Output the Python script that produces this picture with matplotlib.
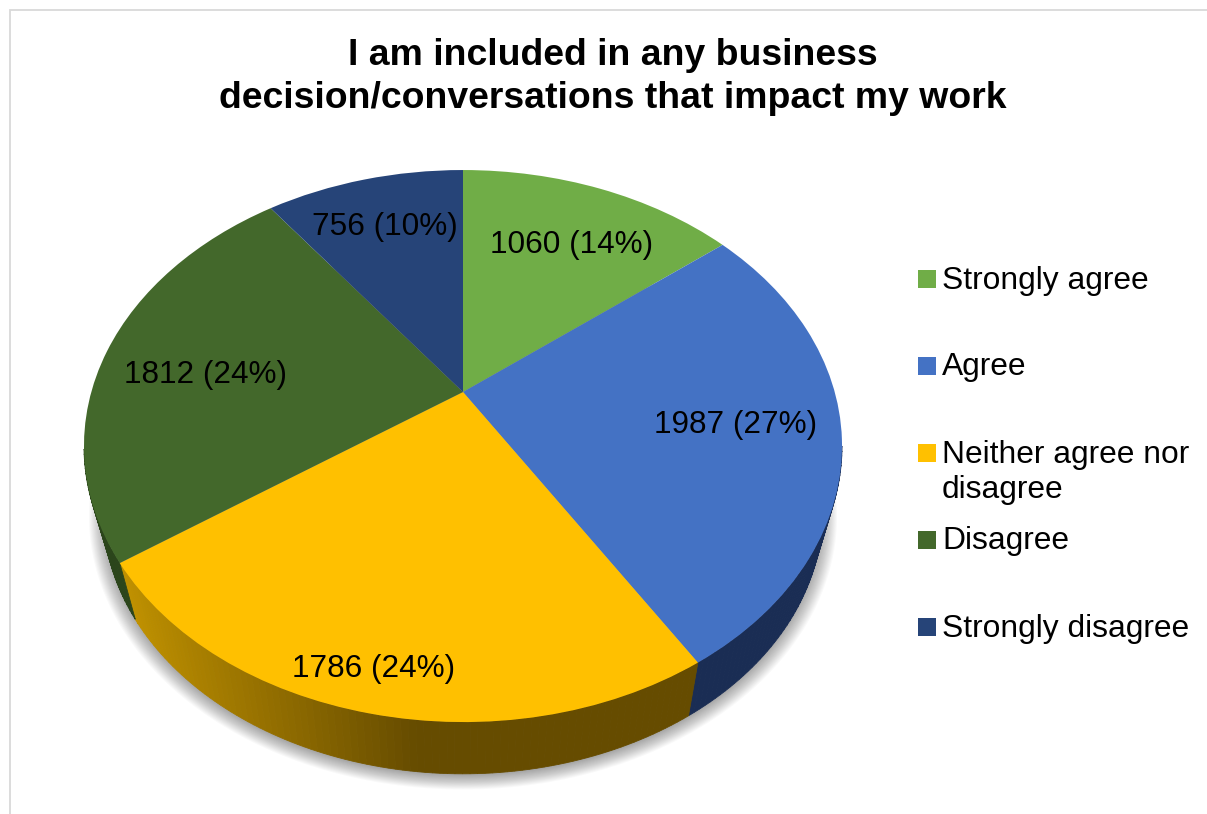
import numpy as np
import matplotlib
matplotlib.use("Agg")
import matplotlib.pyplot as plt
from matplotlib.patches import Rectangle
from matplotlib.path import Path
from matplotlib.transforms import Transform
from matplotlib.colors import to_rgb

categories = ["Strongly agree", "Agree", "Neither agree nor\ndisagree", "Disagree", "Strongly disagree"]
values = [1060, 1987, 1786, 1812, 756]
colors = ["#70AD47", "#4472C4", "#FFC000", "#43682B", "#264478"]
wall_colors = ["#3F6128", "#1A2D54", "#664C00", "#2B451B", "#16294D"]
title = "I am included in any business\ndecision/conversations that impact my work"

# layout (pixel space of the figure)
W, H = 1207, 814
APEX = (463.0, 392.0)
A, B, K = 371.7, 265.4, 0.1957
BOTTOM_APEX = (463.0, 456.0)
BOTTOM_SCALE = 0.946
BOTTOM_K = 0.21
label_pos = [(572, 245), (736, 425), (374, 669), (205, 375), (385, 227)]
legend_y = [276, 363, 450, 537, 624]
FS = 22.7
LEGEND_FS = 22.9


def project(u, v, apex=APEX, scale=1.0, k=K):
    """Perspective view of the unit disc, in figure pixels."""
    d = 1 + k * v
    return apex[0] + scale * A * u / d, apex[1] - scale * B * v / d


class Tilt(Transform):
    input_dims = output_dims = 2
    is_separable = False
    has_inverse = False

    def transform_non_affine(self, xy):
        xy = np.asarray(xy, float)
        x, y = project(xy[:, 0], xy[:, 1])
        return np.column_stack([x, y])

    def transform_path_non_affine(self, path):
        return Path(self.transform_non_affine(path.vertices), path.codes)


fig = plt.figure(figsize=(W / 100, H / 100), dpi=100, facecolor="white")
ax = fig.add_axes([0, 0, 1, 1])
plt.rcParams["font.family"] = ["Liberation Sans", "DejaVu Sans"]

wedges, _ = ax.pie(values, colors=colors, startangle=90, counterclock=False,
                   wedgeprops={"linewidth": 0})
ax.set_aspect("auto")
ax.set_xlim(0, W)
ax.set_ylim(H, 0)
ax.set_axis_off()
tilt = Tilt() + ax.transData
for w in wedges:
    w.set_transform(tilt)
    w.set_zorder(5)
    w.set_clip_on(False)

# soft shadow below the pie
t = np.linspace(0, 2 * np.pi, 361)
for s in np.linspace(1.04, 0.99, 18):
    x, y = project(np.cos(t), np.sin(t), (BOTTOM_APEX[0], BOTTOM_APEX[1] + 3), BOTTOM_SCALE * s, BOTTOM_K)
    ax.fill(x, y, color="#000000", alpha=0.022, lw=0, zorder=1)

# side wall of the pie, one strip at a time (front part only)
fractions = np.cumsum([0] + values) / sum(values)
light, dark = np.array(to_rgb("#C09100")), np.array(to_rgb("#664C00"))
for i in range(len(values)):
    a0 = np.pi / 2 - 2 * np.pi * fractions[i]
    a1 = np.pi / 2 - 2 * np.pi * fractions[i + 1]
    n = max(2, int((a0 - a1) * 60))
    edges = np.linspace(a0, a1, n + 1)
    for e0, e1 in zip(edges[:-1], edges[1:]):
        aa = np.linspace(e0, e1, 3)
        if np.sin(aa).mean() > -0.2:
            continue
        tx, ty = project(np.cos(aa), np.sin(aa))
        bx, by = project(np.cos(aa), np.sin(aa), BOTTOM_APEX, BOTTOM_SCALE, BOTTOM_K)
        c = wall_colors[i]
        if i == 2:
            f = np.clip((tx.mean() - 120) / (415 - 120), 0, 1)
            c = tuple(light + (dark - light) * f)
        ax.fill(np.r_[tx, bx[::-1]], np.r_[ty, by[::-1]], color=c, lw=0.6, zorder=2)

# value labels
for (lx, ly), v in zip(label_pos, values):
    ax.text(lx, ly, f"{v} ({round(100 * v / sum(values))}%)", ha="center", va="center",
            fontsize=FS, color="black", zorder=6)

# legend
for name, c, ly in zip(categories, colors, legend_y):
    ax.add_patch(Rectangle((918, ly - 6), 18, 17.5, facecolor=c, edgecolor="none", zorder=6))
    ax.text(942, ly - 10.5, name, ha="left", va="top", fontsize=LEGEND_FS, color="black",
            linespacing=1.26, zorder=6)

ax.text(613, 77, title, ha="center", va="center", fontsize=26.9, fontweight="bold",
        color="black", linespacing=1.29, zorder=6)

# chart frame, cut by the picture's right and bottom edges
ax.plot([9.5, 9.5, W], [H, 9.5, 9.5], color="#D9D9D9", lw=1.3, zorder=0, solid_joinstyle="miter")

fig.savefig("out.png", dpi=100, facecolor="white")
